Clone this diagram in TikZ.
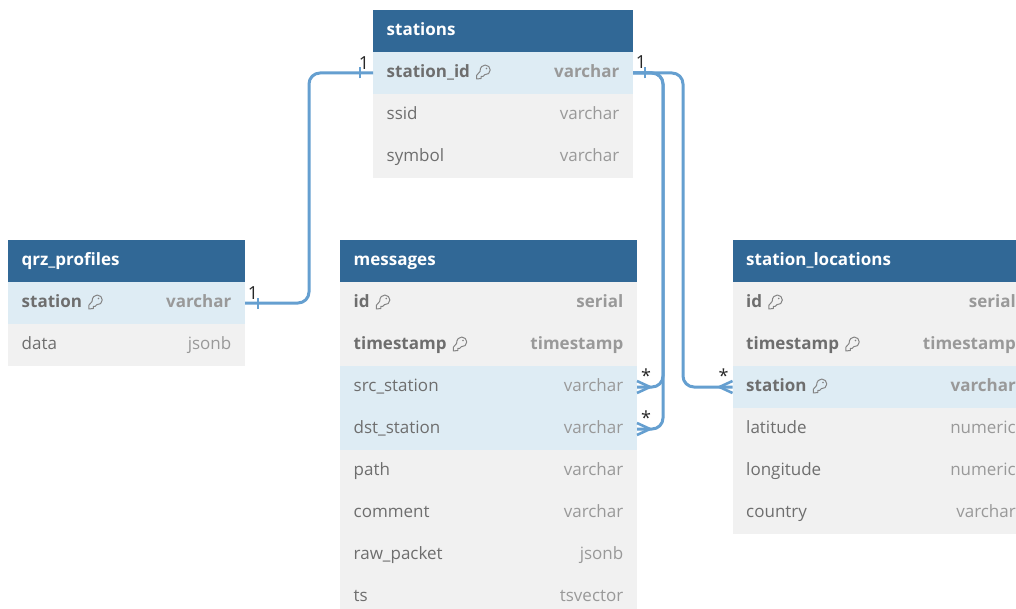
\documentclass[tikz,border=0pt]{standalone}
\usepackage{fontspec}
\setmainfont{Open Sans}
\definecolor{hdr}{HTML}{316896}
\definecolor{keyrow}{HTML}{DEECF4}
\definecolor{plainrow}{HTML}{F1F1F1}
\definecolor{nametxt}{HTML}{6E6E6E}
\definecolor{typetxt}{HTML}{999999}
\definecolor{rel}{HTML}{659FD0}
\tikzset{
  x=1pt,y=-1pt,
  rowbox/.style={draw=none,inner sep=0,outer sep=0,minimum height=42pt,anchor=north west},
  headbox/.style={rowbox,fill=hdr},
  namelbl/.style={inner sep=0,anchor=base west,text=nametxt,font=\fontsize{17}{18}\selectfont},
  typelbl/.style={inner sep=0,anchor=base east,text=typetxt,font=\fontsize{17}{18}\selectfont},
  headlbl/.style={inner sep=0,anchor=base west,text=white,font=\fontsize{17}{18}\selectfont\bfseries},
  relline/.style={draw=rel,line width=3pt,rounded corners=11pt},
  relmark/.style={draw=rel,line width=2.6pt},
  cardlbl/.style={inner sep=0,text=black!85,font=\fontsize{18}{18}\selectfont},
}
\newcommand{\tablehead}[5]{%
  \node[headbox,minimum width=#4pt] (#1) at (#2,#3) {};
  \node[headlbl] (#1-t) at ([xshift=13.5pt,yshift=-25.5pt]#1.north west) {#5};
}
\newcommand{\tablerow}[7]{%
  \node[rowbox,fill=#3,minimum width=#7pt] (#1) at (#2.south west) {};
  \node[namelbl] (#1-n) at ([xshift=13.5pt,yshift=-25.5pt]#1.north west) {#4#5};
  \node[typelbl] (#1-y) at ([xshift=-13.5pt,yshift=-25.5pt]#1.north east) {#4#6};
}
\newcommand{\keyicon}[1]{%
  \begin{scope}[shift={(#1-n.base east)},draw=nametxt!85,line width=1pt,line join=round]
    \draw (9.8,-6) .. controls (9.8,-10.5) and (12.5,-12.5) .. (15,-12.5)
       .. controls (18,-12.5) and (20,-10) .. (20,-7.5)
       .. controls (20,-4.5) and (17.5,-2.5) .. (14.5,-2.8)
       -- (13,-1.2) -- (11,-1.2) -- (11,1) -- (6.5,1.5) -- (6.5,-2.2) -- cycle;
    \fill[nametxt!85] (16.3,-9) circle[radius=0.9pt];
  \end{scope}
}
\begin{document}
\begin{tikzpicture}
\useasboundingbox (0,0) rectangle (1016,609);
\clip (0,0) rectangle (1016,609);
\fill[white] (0,0) rectangle (1016,609);
% stations
\tablehead{st}{373}{10}{260}{stations}
\tablerow{sid}{st}{keyrow}{\bfseries}{station\_id}{varchar}{260}
\tablerow{ssid}{sid}{plainrow}{}{ssid}{varchar}{260}
\tablerow{ssym}{ssid}{plainrow}{}{symbol}{varchar}{260}
\keyicon{sid}
% qrz
\tablehead{qz}{8}{240}{237}{qrz\_profiles}
\tablerow{qst}{qz}{keyrow}{\bfseries}{station}{varchar}{237}
\tablerow{qda}{qst}{plainrow}{}{data}{jsonb}{237}
\keyicon{qst}
% messages
\tablehead{ms}{340}{240}{297}{messages}
\tablerow{mid}{ms}{plainrow}{\bfseries}{id}{serial}{297}
\tablerow{mts}{mid}{plainrow}{\bfseries}{timestamp}{timestamp}{297}
\tablerow{msrc}{mts}{keyrow}{}{src\_station}{varchar}{297}
\tablerow{mdst}{msrc}{keyrow}{}{dst\_station}{varchar}{297}
\tablerow{mpa}{mdst}{plainrow}{}{path}{varchar}{297}
\tablerow{mco}{mpa}{plainrow}{}{comment}{varchar}{297}
\tablerow{mra}{mco}{plainrow}{}{raw\_packet}{jsonb}{297}
\tablerow{mtv}{mra}{plainrow}{}{ts}{tsvector}{297}
\keyicon{mid}
\keyicon{mts}
% station_locations
\tablehead{sl}{732.5}{240}{297}{station\_locations}
\tablerow{lid}{sl}{plainrow}{\bfseries}{id}{serial}{297}
\tablerow{lts}{lid}{plainrow}{\bfseries}{timestamp}{timestamp}{297}
\tablerow{lst}{lts}{keyrow}{\bfseries}{station}{varchar}{297}
\tablerow{lla}{lst}{plainrow}{}{latitude}{numeric}{297}
\tablerow{llo}{lla}{plainrow}{}{longitude}{numeric}{297}
\tablerow{lco}{llo}{plainrow}{}{country}{varchar}{297}
\keyicon{lid}
\keyicon{lts}
\keyicon{lst}
% routing channels
\coordinate (cha) at (663,0);
\coordinate (chb) at (683,0);
\coordinate (chq) at (309,0);
% connectors
\draw[relline] (qst.east) -- (qst.east -| chq) -- (sid.west -| chq) -- (sid.west);
\draw[relline] (sid.east) -- (sid.east -| cha) -- (msrc.east -| cha) -- (msrc.east);
\draw[relline] (sid.east) -- (sid.east -| cha) -- (mdst.east -| cha) -- (mdst.east);
\draw[relline] (sid.east) -- (sid.east -| chb) -- (lst.west -| chb) -- (lst.west);
% ticks
\draw[relmark] ([xshift=13pt,yshift=-5.5pt]qst.east) -- ([xshift=13pt,yshift=5.5pt]qst.east);
\draw[relmark] ([xshift=-13pt,yshift=-5.5pt]sid.west) -- ([xshift=-13pt,yshift=5.5pt]sid.west);
\draw[relmark] ([xshift=12pt,yshift=-5.5pt]sid.east) -- ([xshift=12pt,yshift=5.5pt]sid.east);
% crow feet
\draw[relmark] ([yshift=-6pt]msrc.east) -- ([xshift=13pt]msrc.east) -- ([yshift=6pt]msrc.east);
\draw[relmark] ([yshift=-6pt]mdst.east) -- ([xshift=13pt]mdst.east) -- ([yshift=6pt]mdst.east);
\draw[relmark] ([yshift=-6pt]lst.west) -- ([xshift=-13pt]lst.west) -- ([yshift=6pt]lst.west);
% cardinalities
\node[cardlbl] (c1) at ([xshift=8pt,yshift=10pt]qst.east) {1};
\node[cardlbl] (c2) at ([xshift=-9pt,yshift=10pt]sid.west) {1};
\node[cardlbl] (c3) at ([xshift=8pt,yshift=11pt]sid.east) {1};
\node[cardlbl] (c4) at ([xshift=9pt,yshift=11.5pt]msrc.east) {*};
\node[cardlbl] (c5) at ([xshift=9pt,yshift=11.5pt]mdst.east) {*};
\node[cardlbl] (c6) at ([xshift=-9pt,yshift=11.5pt]lst.west) {*};
\end{tikzpicture}
\end{document}
